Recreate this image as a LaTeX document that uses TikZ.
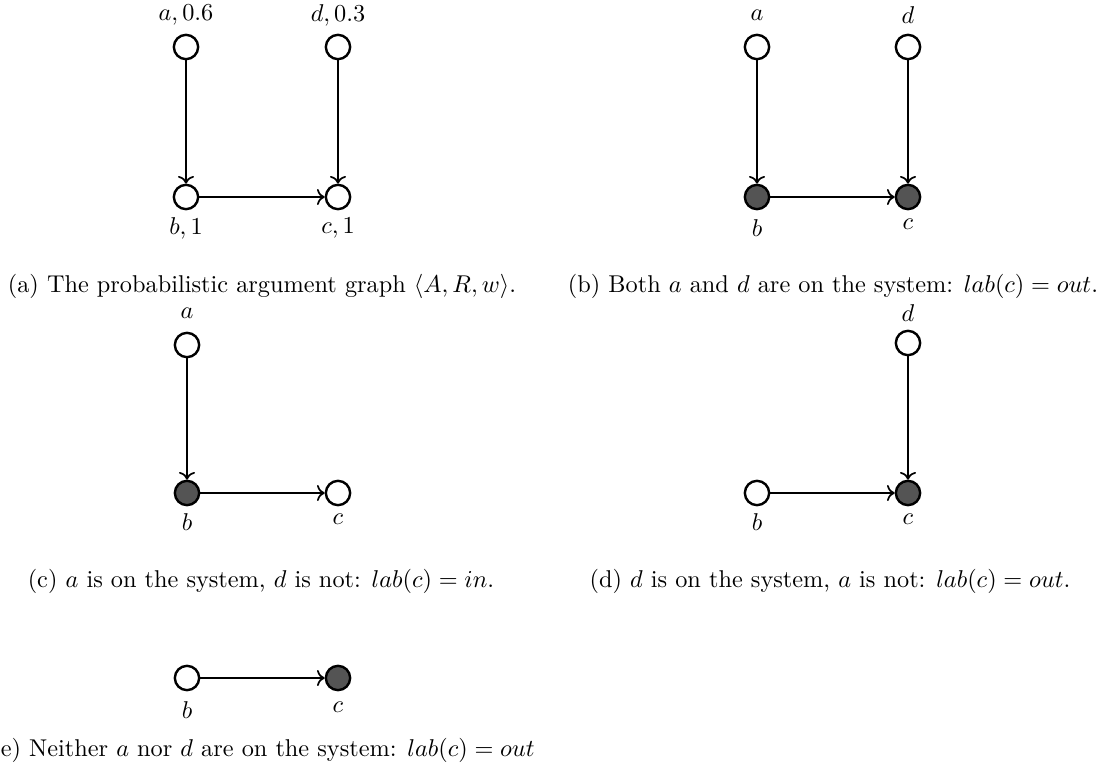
\documentclass[tikz,border=0pt]{standalone}
\usetikzlibrary{arrows.meta}
\tikzset{
  arg/.style={circle,draw,line width=1pt,minimum size=10pt,inner sep=0pt,fill=white},
  on/.style={arg,fill=black!67},
  att/.style={->,line width=0.7pt},
  lbl/.style={inner sep=0pt},
  captxt/.style={inner sep=0pt,anchor=base}
}
\begin{document}
\begin{tikzpicture}[x=0.4115pt,y=-0.4115pt]
\useasboundingbox (0,0) rectangle (1105,771);
% (a)
\node[arg] (aa) at (186,47) {};
\node[arg] (ad) at (338,47) {};
\node[arg] (ab) at (186,197) {};
\node[arg] (ac) at (338,197) {};
\node[lbl] (aal) at (186,15) {$a,0.6$};
\node[lbl] (adl) at (338,15) {$d,0.3$};
\node[lbl] (abl) at (186,228) {$b,1$};
\node[lbl] (acl) at (338,228) {$c,1$};
\draw[att] (aa) -- (ab);
\draw[att] (ad) -- (ac);
\draw[att] (ab) -- (ac);
\node[captxt] (capa) at (262,292) {(a) The probabilistic argument graph $\langle A,R,w\rangle$.};
% (b)
\node[arg] (ba) at (757,47) {};
\node[arg] (bd) at (908,47) {};
\node[on] (bb) at (757,197) {};
\node[on] (bc) at (908,197) {};
\node[lbl] (bal) at (757,15) {$a$};
\node[lbl] (bdl) at (908,15) {$d$};
\node[lbl] (bbl) at (757,228) {$b$};
\node[lbl] (bcl) at (908,224) {$c$};
\draw[att] (ba) -- (bb);
\draw[att] (bd) -- (bc);
\draw[att] (bb) -- (bc);
\node[captxt] (capb) at (833,292) {(b) Both $a$ and $d$ are on the system: $lab(c)=out$.};
% (c)
\node[arg] (ca) at (187,345) {};
\node[on] (cb) at (187,493) {};
\node[arg] (cc) at (338,493) {};
\node[lbl] (cal) at (187,313) {$a$};
\node[lbl] (cbl) at (187,522) {$b$};
\node[lbl] (ccl) at (338,519) {$c$};
\draw[att] (ca) -- (cb);
\draw[att] (cb) -- (cc);
\node[captxt] (capc) at (261,587) {(c) $a$ is on the system, $d$ is not: $lab(c)=in$.};
% (d)
\node[arg] (dd) at (908,343) {};
\node[arg] (db) at (757,493) {};
\node[on] (dc) at (908,493) {};
\node[lbl] (ddl) at (908,313) {$d$};
\node[lbl] (dbl) at (757,522) {$b$};
\node[lbl] (dcl) at (908,519) {$c$};
\draw[att] (dd) -- (dc);
\draw[att] (db) -- (dc);
\node[captxt] (capd) at (830,587) {(d) $d$ is on the system, $a$ is not: $lab(c)=out$.};
% (e)
\node[arg] (eb) at (187,678) {};
\node[on] (ec) at (338,678) {};
\node[lbl] (ebl) at (187,710) {$b$};
\node[lbl] (ecl) at (338,707) {$c$};
\draw[att] (eb) -- (ec);
\node[captxt] (cape) at (263,756) {(e) Neither $a$ nor $d$ are on the system: $lab(c)=out$};
\end{tikzpicture}
\end{document}
